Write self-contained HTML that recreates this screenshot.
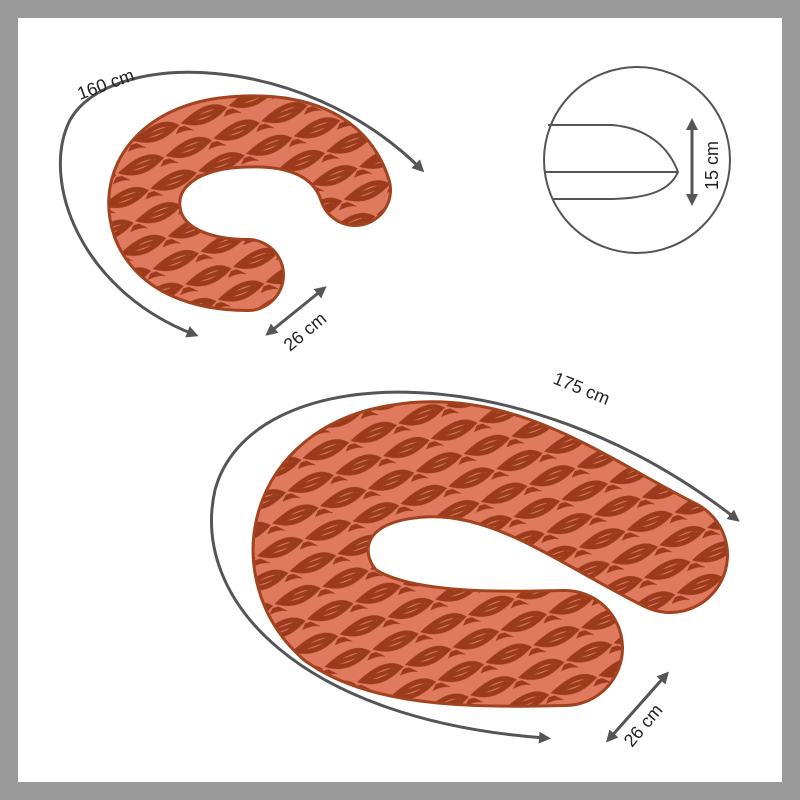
<!DOCTYPE html>
<html><head><style>
html,body{margin:0;padding:0;width:800px;height:800px;overflow:hidden;background:#fff}
</style></head><body>
<svg width="800" height="800" viewBox="0 0 800 800" xmlns="http://www.w3.org/2000/svg" font-family="Liberation Sans, sans-serif">
<defs>
<pattern id="leaf" width="36" height="36" patternUnits="userSpaceOnUse" patternTransform="rotate(25)">
<rect width="36" height="36" fill="#df7a5f"/>
<path d="M4 32 Q16 4 32 4 Q24 28 4 32Z" fill="none" stroke="#9b3b1c" stroke-width="5"/>
<path d="M7 29 L28 8" stroke="#9b3b1c" stroke-width="4"/>
<path d="M-5 14 Q5 0 14 -2" fill="none" stroke="#9b3b1c" stroke-width="5"/>
</pattern>
<marker id="ah" markerWidth="4" markerHeight="4" refX="2" refY="2" orient="auto-start-reverse" markerUnits="strokeWidth">
<path d="M0,0 L4,2 L0,4 Z" fill="#555"/>
</marker>
</defs>
<rect x="0" y="0" width="800" height="800" fill="#9a9a9a"/>
<rect x="18" y="18" width="764" height="764" fill="#fff"/>

<path d="M355 190 C340 142 292 128 236 132 C168 136 132 178 148 225 C162 262 205 275 248 275" fill="none" stroke="#a3421f" stroke-width="74" stroke-linecap="round"/>
<path d="M355 190 C340 142 292 128 236 132 C168 136 132 178 148 225 C162 262 205 275 248 275" fill="none" stroke="url(#leaf)" stroke-width="68" stroke-linecap="round"/>

<path d="M670 555 C580 510 500 445 400 462 C300 478 290 570 340 615 C390 650 480 650 565 648" fill="none" stroke="#a3421f" stroke-width="118" stroke-linecap="round"/>
<path d="M670 555 C580 510 500 445 400 462 C300 478 290 570 340 615 C390 650 480 650 565 648" fill="none" stroke="url(#leaf)" stroke-width="112" stroke-linecap="round"/>

<g fill="none" stroke="#555" stroke-width="3">
<path d="M193 334 C80 290 40 180 70 120 C110 50 300 50 420 168" marker-end="url(#ah)" marker-start="url(#ah)"/>
<path d="M270 332 L322 290" marker-end="url(#ah)" marker-start="url(#ah)"/>
<path d="M545 738 C300 720 190 600 215 490 C250 360 520 350 735 518" marker-end="url(#ah)" marker-start="url(#ah)"/>
<path d="M610 738 L665 676" marker-end="url(#ah)" marker-start="url(#ah)"/>
<circle cx="637" cy="160" r="93" stroke-width="2"/>
<path d="M548 125 L612 125 C650 128 670 150 678 172 C670 190 650 198 612 199 L552 199" stroke-width="2"/>
<path d="M545 172 L678 172" stroke-width="2"/>
<path d="M692 124 L692 200" marker-end="url(#ah)" marker-start="url(#ah)" stroke-width="3"/>
</g>
<g fill="#222" font-size="18">
<text x="80" y="100" transform="rotate(-20 80 100)">160 cm</text>
<text x="290" y="352" transform="rotate(-40 290 352)">26 cm</text>
<text x="552" y="383" transform="rotate(22 552 383)">175 cm</text>
<text x="632" y="748" transform="rotate(-50 632 748)">26 cm</text>
<text x="718" y="190" transform="rotate(-90 718 190)">15 cm</text>
</g>
</svg>
</body></html>
